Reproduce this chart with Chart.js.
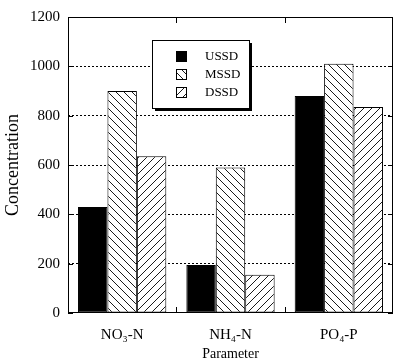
<!DOCTYPE html>
<html>
<head>
<meta charset="utf-8">
<script src="https://cdn.jsdelivr.net/npm/chart.js@4/dist/chart.umd.min.js"></script>
<style>
  html, body { margin: 0; padding: 0; background: #fff; }
  #wrap { width: 400px; height: 364px; }
</style>
</head>
<body>
<div id="wrap"><canvas id="chart" width="400" height="364"></canvas></div>
<script>
const categories = ['NO\u2083-N', 'NH\u2084-N', 'PO\u2084-P'];
const seriesNames = ['USSD', 'MSSD', 'DSSD'];
const ussd = [430, 195, 880];
const mssd = [900, 590, 1010];
const dssd = [635, 155, 835];
const yTicks = [0, 200, 400, 600, 800, 1000, 1200];

const FONT = "'Liberation Serif', 'Times New Roman', serif";

// hatch tiles
function hatch(dir) {
  const s = 8;
  const c = document.createElement('canvas');
  c.width = s; c.height = s;
  const g = c.getContext('2d');
  g.fillStyle = '#fff';
  g.fillRect(0, 0, s, s);
  g.strokeStyle = '#000';
  g.lineWidth = 0.9;
  g.beginPath();
  for (let k = -1; k <= 1; k++) {
    if (dir === 'back') {
      g.moveTo(k * s, 0); g.lineTo(k * s + s, s);
    } else {
      g.moveTo(k * s, s); g.lineTo(k * s + s, 0);
    }
  }
  g.stroke();
  return g.createPattern(c, 'repeat');
}
const backHatch = hatch('back');
const fwdHatch = hatch('fwd');
const fills = ['#000', backHatch, fwdHatch];

const framePlugin = {
  id: 'frame',
  afterDraw(chart) {
    const { ctx, chartArea: a, scales: { x, y } } = chart;
    ctx.save();
    ctx.strokeStyle = '#000';
    ctx.lineWidth = 1;
    ctx.setLineDash([]);
    ctx.strokeRect(a.left + 0.5, a.top + 0.5, a.right - a.left - 1, a.bottom - a.top - 1);
    ctx.beginPath();
    // inward y ticks, both sides
    yTicks.forEach(v => {
      const py = Math.round(y.getPixelForValue(v)) + 0.5;
      ctx.moveTo(a.left, py); ctx.lineTo(a.left + 5, py);
      ctx.moveTo(a.right, py); ctx.lineTo(a.right - 5, py);
    });
    // inward x ticks at category boundaries
    for (let i = 0; i < categories.length - 1; i++) {
      const px = Math.round((x.getPixelForValue(i) + x.getPixelForValue(i + 1)) / 2) + 0.5;
      ctx.moveTo(px, a.top); ctx.lineTo(px, a.top + 6);
      ctx.moveTo(px, a.bottom); ctx.lineTo(px, a.bottom - 6);
    }
    ctx.stroke();

    // legend box with drop shadow
    const lx = 152, ly = 40, lw = 97, lh = 68;
    ctx.fillStyle = '#000';
    ctx.fillRect(lx + 3, ly + 3, lw, lh);
    ctx.fillStyle = '#fff';
    ctx.fillRect(lx, ly, lw, lh);
    ctx.strokeRect(lx + 0.5, ly + 0.5, lw, lh);
    ctx.font = '13px ' + FONT;
    ctx.textBaseline = 'middle';
    ctx.textAlign = 'left';
    seriesNames.forEach((name, i) => {
      const sy = ly + 11 + i * 18;
      ctx.fillStyle = fills[i];
      ctx.fillRect(176, sy, 11, 11);
      ctx.strokeRect(176.5, sy + 0.5, 10, 10);
      ctx.fillStyle = '#000';
      ctx.fillText(name, 205, sy + 6);
    });
    ctx.restore();
  }
};

const datasets = [ussd, mssd, dssd].map((vals, i) => ({
  label: seriesNames[i],
  data: vals,
  backgroundColor: fills[i],
  borderColor: '#000',
  borderWidth: 1,
  borderSkipped: false,
  categoryPercentage: 0.815,
  barPercentage: 1.0
}));

new Chart(document.getElementById('chart'), {
  type: 'bar',
  data: { labels: categories, datasets },
  options: {
    responsive: false,
    animation: false,
    devicePixelRatio: 1,
    layout: { padding: { top: 16, right: 7, left: 0, bottom: 0 } },
    plugins: { legend: { display: false }, tooltip: { enabled: false } },
    scales: {
      x: {
        grid: { display: false },
        border: { display: false },
        ticks: { color: '#000', font: { family: FONT, size: 15 }, padding: 5, maxRotation: 0 },
        title: { display: true, text: 'Parameter', color: '#000', font: { family: FONT, size: 14 }, padding: { top: 0, bottom: 1 } },
        afterFit(s) { s.height = 51; }
      },
      y: {
        min: 0,
        max: 1200,
        ticks: { stepSize: 200, color: '#000', font: { family: FONT, size: 15 }, padding: 8, callback: v => String(v) },
        grid: {
          drawTicks: false,
          color: ctx => (ctx.tick && (ctx.tick.value === 0 || ctx.tick.value === 1200)) ? 'rgba(0,0,0,0)' : '#000',
          lineWidth: 1
        },
        border: { display: false, dash: [2, 2] },
        title: { display: true, text: 'Concentration', color: '#000', font: { family: FONT, size: 18 }, padding: { top: 2, bottom: 0 } },
        afterFit(s) { s.width = 68; }
      }
    }
  },
  plugins: [framePlugin]
});
</script>
</body>
</html>
